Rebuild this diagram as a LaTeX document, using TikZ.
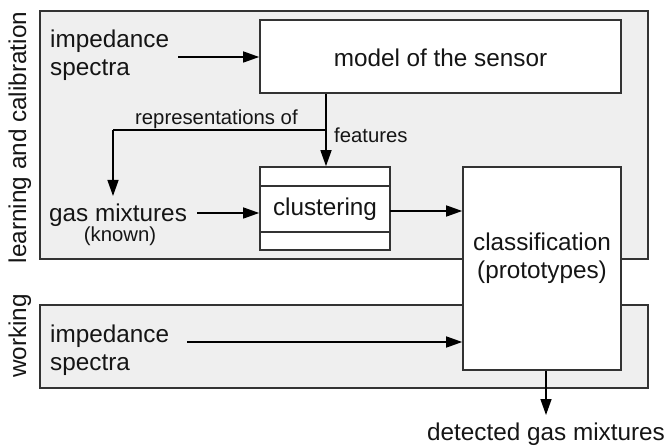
\documentclass[tikz,border=0pt]{standalone}
\usepackage{fontspec}
\setmainfont{Liberation Sans}
\usetikzlibrary{arrows.meta}
\definecolor{panelgray}{HTML}{EFEFEF}
\definecolor{linegray}{HTML}{333333}
\definecolor{txt}{HTML}{151515}
\tikzset{
  panel/.style={draw=linegray, line width=1.6pt, fill=panelgray, inner sep=0pt},
  wbox/.style={draw=linegray, line width=1.6pt, fill=white, inner sep=0pt},
  bigtxt/.style={text=txt, inner sep=0pt, font=\fontsize{24.3}{28}\selectfont},
  smalltxt/.style={text=txt, inner sep=0pt, font=\fontsize{20.3}{24}\selectfont},
  conn/.style={draw=black, line width=1.4pt, -{Triangle[length=16pt,width=11pt]}},
  plain/.style={draw=black, line width=1.4pt},
}
\begin{document}
\begin{tikzpicture}[x=1pt,y=-1pt]
\useasboundingbox (0,0) rectangle (666,446);
% panels
\node[panel, minimum width=608pt, minimum height=248pt] (learn) at (344,135) {};
\node[panel, minimum width=608pt, minimum height=83pt] (work) at (344,346.5) {};
% side labels
\node[bigtxt, rotate=90, anchor=base] (lablearn) at (26,137.5) {learning and calibration};
\node[bigtxt, rotate=90, anchor=base] (labwork) at (26,336) {working};
% boxes
\node[wbox, minimum width=361pt, minimum height=73pt] (model) at (440.5,56.5) {};
\node[bigtxt] (modeltxt) at (440.5,58) {model of the sensor};
\node[wbox, minimum width=130pt, minimum height=83pt] (clust) at (325,208.5) {};
\coordinate (cl1) at (260,186);
\coordinate (cr1) at (390,186);
\coordinate (cl2) at (260,232);
\coordinate (cr2) at (390,232);
\draw[plain, draw=linegray] (cl1) -- (cr1);
\draw[plain, draw=linegray] (cl2) -- (cr2);
\node[bigtxt] (clusttxt) at (325,209) {clustering};
\node[wbox, minimum width=158pt, minimum height=203pt] (classif) at (542,268.5) {};
\node[bigtxt, align=center] (classiftxt) at (542,258) {classification\\(prototypes)};
% text nodes
\node[bigtxt, align=left, anchor=west] (imp1) at (50,55.5) {impedance\\spectra};
\node[bigtxt, anchor=base west] (gas) at (49,222) {gas mixtures};
\node[smalltxt, anchor=base] (known) at (120,242) {(known)};
\node[bigtxt, align=left, anchor=west] (imp2) at (50,350) {impedance\\spectra};
\node[smalltxt, anchor=base west] (repr) at (135,125) {representations of};
\node[smalltxt, anchor=base west] (feat) at (334,143) {features};
\node[bigtxt, anchor=base] (det) at (546,440) {detected gas mixtures};
% connectors
\coordinate (a1) at (178,57);
\draw[conn] (a1) -- (a1 -| model.west);
\coordinate (br) at (326,130);
\coordinate (bl) at (113,130);
\coordinate (gasend) at (113,196);
\draw[plain] (model.south -| br) -- (br);
\draw[conn] (br) -- (clust.north -| br);
\draw[plain] (br) -- (bl);
\draw[conn] (bl) -- (gasend);
\coordinate (a2) at (197,213);
\draw[conn] (a2) -- (a2 -| clust.west);
\coordinate (a3) at (390,211);
\draw[conn] (a3) -- (a3 -| classif.west);
\coordinate (a4) at (187,342);
\draw[conn] (a4) -- (a4 -| classif.west);
\coordinate (a5) at (546,415);
\draw[conn] (classif.south -| a5) -- (a5);
\end{tikzpicture}
\end{document}
